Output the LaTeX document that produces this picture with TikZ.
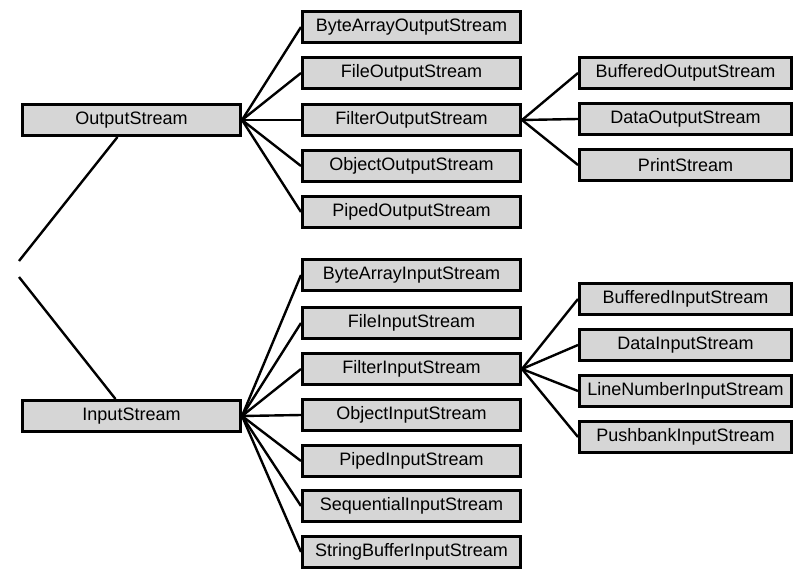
\documentclass[tikz,border=0pt]{standalone}
\usepackage{fontspec}
\setmainfont{Liberation Sans}
\usetikzlibrary{positioning}

\begin{document}
\begin{tikzpicture}[x=1pt, y=-1pt,
    cls/.style={rectangle, draw, line width=3pt, fill=black!16, inner sep=0pt,
      minimum width=218pt, minimum height=31pt, font=\fontsize{18}{21}\selectfont},
    sub/.style={cls, minimum width=212pt},
    link/.style={line width=2.4pt}]
    \useasboundingbox (0,0) rectangle (794,569);
    % base classes
    \node[cls] (out) at (131.5,120) {OutputStream};
    \node[cls] (in) at (131.5,416) {InputStream};
    \coordinate (top) at (19,261);
    \coordinate (bot) at (19,277);
    \draw[link] (top) -- ([xshift=-14pt]out.south);
    \draw[link] (bot) -- ([xshift=-16pt]in.north);
    % output side
    \node[cls] (bao) at (411.5,27) {ByteArrayOutputStream};
    \node[cls] (fo) at (411.5,73) {FileOutputStream};
    \node[cls] (filo) at (411.5,120) {FilterOutputStream};
    \node[cls] (oo) at (411.5,166) {ObjectOutputStream};
    \node[cls] (po) at (411.5,212) {PipedOutputStream};
    \draw[link] (out.east) -- (bao.west);
    \draw[link] (out.east) -- (fo.west);
    \draw[link] (out.east) -- (filo.west);
    \draw[link] (out.east) -- (oo.west);
    \draw[link] (out.east) -- (po.west);
    \node[sub] (bo) at (685.5,73) {BufferedOutputStream};
    \node[sub] (do) at (685.5,119) {DataOutputStream};
    \node[sub] (ps) at (685.5,165) {PrintStream};
    \draw[link] (filo.east) -- (bo.west);
    \draw[link] (filo.east) -- (do.west);
    \draw[link] (filo.east) -- (ps.west);
    % input side
    \node[cls] (bai) at (411.5,275) {ByteArrayInputStream};
    \node[cls] (fi) at (411.5,323) {FileInputStream};
    \node[cls] (fili) at (411.5,369) {FilterInputStream};
    \node[cls] (oi) at (411.5,415) {ObjectInputStream};
    \node[cls] (pi) at (411.5,461) {PipedInputStream};
    \node[cls] (si) at (411.5,506) {SequentialInputStream};
    \node[cls] (sbi) at (411.5,552) {StringBufferInputStream};
    \draw[link] (in.east) -- (bai.west);
    \draw[link] (in.east) -- (fi.west);
    \draw[link] (in.east) -- (fili.west);
    \draw[link] (in.east) -- (oi.west);
    \draw[link] (in.east) -- (pi.west);
    \draw[link] (in.east) -- (si.west);
    \draw[link] (in.east) -- (sbi.west);
    \node[sub] (bi) at (685.5,299) {BufferedInputStream};
    \node[sub] (di) at (685.5,345) {DataInputStream};
    \node[sub] (lni) at (685.5,391) {LineNumberInputStream};
    \node[sub] (pbi) at (685.5,437) {PushbankInputStream};
    \draw[link] (fili.east) -- (bi.west);
    \draw[link] (fili.east) -- (di.west);
    \draw[link] (fili.east) -- (lni.west);
    \draw[link] (fili.east) -- (pbi.west);
  \end{tikzpicture}
\end{document}
